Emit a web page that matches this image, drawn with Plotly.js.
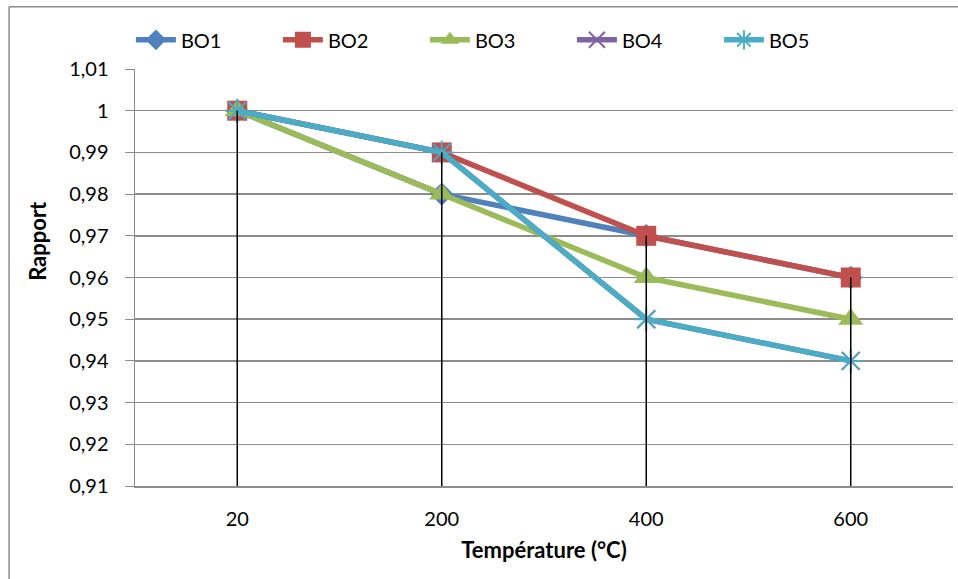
<!DOCTYPE html>
<html>
<head>
<meta charset="utf-8">
<script src="https://cdn.plot.ly/plotly-3.0.1.min.js"></script>
<style>html,body{margin:0;padding:0;background:#fff;}#chart{width:958px;height:579px;}</style>
</head>
<body>
<div id="chart"></div>
<script>
const categories = ["20", "200", "400", "600"];
const bo1 = [1, 0.98, 0.97, 0.96];
const bo2 = [1, 0.99, 0.97, 0.96];
const bo3 = [1, 0.98, 0.96, 0.95];
const bo4 = [1, 0.99, 0.95, 0.94];
const bo5 = [1, 0.99, 0.95, 0.94];
const seriesNames = ["BO1", "BO2", "BO3", "BO4", "BO5"];
const xTitle = "Température (°C)";
const yTitle = "Rapport";
const yMin = 0.91, yMax = 1.01;

const allSeries = [bo1, bo2, bo3, bo4, bo5];
const colors = ["#4F81BD", "#C0504D", "#9BBB59", "#8064A2", "#4BACC6"];
const symbols = ["diamond", "square", "triangle-up", "x-thin-open", "asterisk-open"];
const sizes = [18, 20, 22, 18, 20];

const traces = allSeries.map((s, i) => ({
  type: "scatter", mode: "lines+markers", name: seriesNames[i],
  x: categories, y: s,
  line: {color: colors[i], width: 5.5},
  marker: {symbol: symbols[i], size: sizes[i], color: colors[i],
           line: {color: colors[i], width: (i >= 3 ? 2 : 0)}}
}));

// drop lines from highest point to axis
const dx = [], dy = [];
categories.forEach((c, k) => {
  const m = Math.max(...allSeries.map(s => s[k]));
  dx.push(c, c, null); dy.push(yMin, m, null);
});
traces.push({type: "scatter", mode: "lines", x: dx, y: dy, showlegend: false,
  hoverinfo: "skip", line: {color: "#000", width: 1.5}});

const font = "Lato";
const layout = {
  width: 958, height: 579,
  margin: {l: 135, r: 5, t: 69, b: 93, autoexpand: false},
  paper_bgcolor: "#fff", plot_bgcolor: "#fff",
  separators: ", ",
  font: {family: font, size: 20, color: "#000"},
  xaxis: {
    type: "category", range: [-0.5, 3.5], automargin: false,
    showgrid: false, showline: true, linecolor: "#8c8c8c", linewidth: 1.5,
    ticks: "", tickfont: {family: font, size: 20}, ticklabelstandoff: 14,
    title: {text: "<b>" + xTitle + "</b>", font: {family: font, size: 22}, standoff: 14}
  },
  yaxis: {
    range: [yMin, yMax], dtick: 0.01, tick0: yMin, automargin: false,
    showgrid: true, gridcolor: "#8c8c8c", gridwidth: 1.5,
    showline: true, linecolor: "#8c8c8c", linewidth: 1.5,
    ticks: "outside", ticklen: 9, tickcolor: "#8c8c8c", tickwidth: 1,
    tickfont: {family: font, size: 20}, zeroline: false, ticklabelstandoff: 12
  },
  annotations: [{
    text: "<b>" + yTitle + "</b>", xref: "paper", yref: "paper",
    x: -0.12, y: 0.5875, xanchor: "center", yanchor: "middle",
    textangle: -90, showarrow: false, font: {family: font, size: 22, color: "#000"}
  }],
  legend: {orientation: "h", x: -0.005, y: 1.07, xanchor: "left", yanchor: "middle",
    font: {family: font, size: 20}, entrywidth: 92, itemwidth: 40, bgcolor: "rgba(0,0,0,0)"},
  shapes: [
    {type: "line", xref: "paper", yref: "paper", x0: -0.154, x1: -0.154, y0: 1.149, y1: -0.3,
     line: {color: "#8c8c8c", width: 1.5}},
    {type: "line", xref: "paper", yref: "paper", x0: -0.154, x1: 1.1, y0: 1.149, y1: 1.149,
     line: {color: "#8c8c8c", width: 1.5}}
  ]
};
Plotly.newPlot("chart", traces, layout, {displayModeBar: false, staticPlot: true});
</script>
</body>
</html>
